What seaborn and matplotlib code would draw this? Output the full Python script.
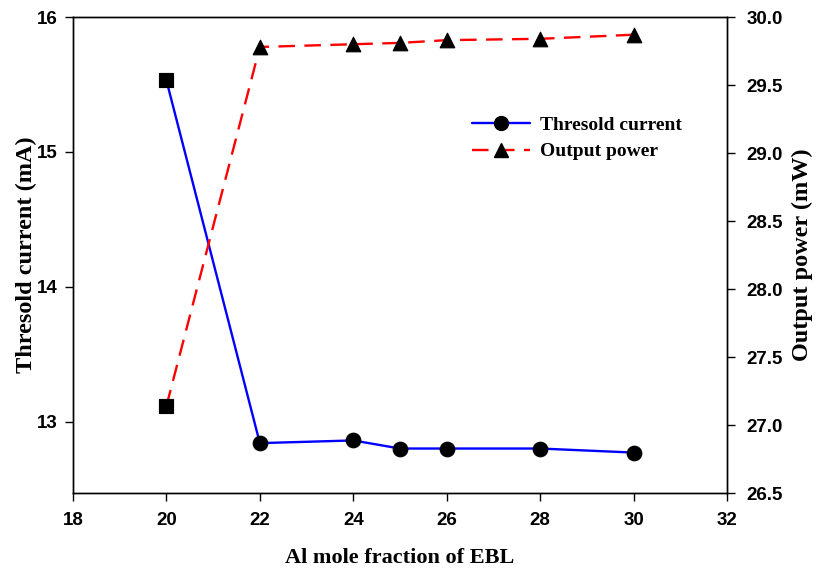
import matplotlib
matplotlib.use("Agg")
import matplotlib.pyplot as plt
import seaborn as sns
import pandas as pd
from matplotlib.lines import Line2D

al_fraction = [20, 22, 24, 25, 26, 28, 30]
threshold_current = [15.53, 12.84, 12.86, 12.80, 12.80, 12.80, 12.77]
output_power = [27.14, 29.78, 29.80, 29.81, 29.83, 29.84, 29.87]

df = pd.DataFrame({"x": al_fraction, "cur": threshold_current, "pow": output_power})

sns.set_style("ticks")
plt.rcParams["font.family"] = ["Liberation Sans", "DejaVu Sans"]
plt.rcParams.update({"text.color": "black", "axes.labelcolor": "black",
                     "xtick.color": "black", "ytick.color": "black",
                     "axes.edgecolor": "black"})

fig = plt.figure(figsize=(8.21, 5.68), dpi=100)
ax = fig.add_axes([0.0889, 0.132, 0.7966, 0.838])
ax2 = ax.twinx()

sns.lineplot(data=df, x="x", y="cur", ax=ax, color="#0000ff", lw=1.7, legend=False)
sns.lineplot(data=df, x="x", y="pow", ax=ax2, color="#ff0000", lw=1.7,
             dashes=False, legend=False)
ax2.lines[0].set_linestyle((0, (7, 4)))

sub = df.iloc[1:]
first = df.iloc[:1]
sns.scatterplot(data=sub, x="x", y="cur", ax=ax, marker="o", s=110, color="black",
                edgecolor="black", zorder=5, legend=False)
sns.scatterplot(data=first, x="x", y="cur", ax=ax, marker="s", s=110, color="black",
                edgecolor="black", zorder=5, legend=False)
sns.scatterplot(data=sub, x="x", y="pow", ax=ax2, marker="^", s=110, color="black",
                edgecolor="black", zorder=5, legend=False)
sns.scatterplot(data=first, x="x", y="pow", ax=ax2, marker="s", s=110, color="black",
                edgecolor="black", zorder=5, legend=False)

ax.set_xlim(18, 32)
ax.set_ylim(12.47, 16)
ax2.set_ylim(26.5, 30.0)
ax.set_xticks([18, 20, 22, 24, 26, 28, 30, 32])
ax.set_yticks([13, 14, 15, 16])
ax2.set_yticks([26.5, 27.0, 27.5, 28.0, 28.5, 29.0, 29.5, 30.0])
ax2.set_yticklabels(["26.5", "27.0", "27.5", "28.0", "28.5", "29.0", "29.5", "30.0"])

for a in (ax, ax2):
    for s in a.spines.values():
        s.set_visible(True)
        s.set_color("black")
        s.set_linewidth(1.0)
    a.tick_params(direction="out", length=6, width=1, labelsize=13.5, pad=8,
                  color="black", labelcolor="black")
    for lab in a.get_xticklabels() + a.get_yticklabels():
        lab.set_fontweight("bold")
ax.tick_params(axis="y", pad=5)

serif = ["Liberation Serif", "DejaVu Serif"]
ax.set_xlabel("Al mole fraction of EBL", fontsize=16, fontweight="bold", family=serif, color="black")
ax.set_ylabel("Thresold current (mA)", fontsize=17.5, fontweight="bold", family=serif, color="black")
ax2.set_ylabel("Output power (mW)", fontsize=17.5, fontweight="bold", family=serif, color="black")
ax.xaxis.set_label_coords(0.5, -0.115)
ax.yaxis.set_label_coords(-0.0545, 0.5)
ax2.yaxis.set_label_coords(1.099, 0.5)

handles = [
    Line2D([0], [0], color="#0000ff", lw=1.7, marker="o", markersize=10,
           markerfacecolor="black", markeredgecolor="black"),
    Line2D([0], [0], color="#ff0000", lw=1.7, ls=(0, (7, 4)), marker="^", markersize=10,
           markerfacecolor="black", markeredgecolor="black"),
]
leg = ax.legend(handles, ["Thresold current", "Output power"], loc="upper left",
                bbox_to_anchor=(0.583, 0.828), frameon=False, handlelength=3.0,
                handletextpad=0.5,
                prop={"family": serif, "weight": "bold", "size": 14}, labelspacing=0.45)
for t in leg.get_texts():
    t.set_color("black")

fig.savefig("out.png", dpi=100)
